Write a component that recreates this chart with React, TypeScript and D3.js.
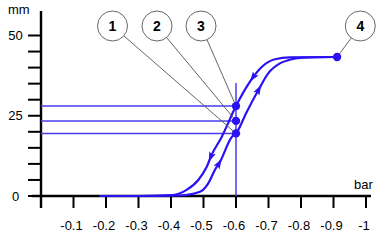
import React, { useEffect, useRef } from "react";
import * as d3 from "d3";

// Data
const xTicks = [0, -0.1, -0.2, -0.3, -0.4, -0.5, -0.6, -0.7, -0.8, -0.9, -1];
const xTickLabels = ["", "-0.1", "-0.2", "-0.3", "-0.4", "-0.5", "-0.6", "-0.7", "-0.8", "-0.9", "-1"];
const yTicks = [0, 5, 10, 15, 20, 25, 30, 35, 40, 45, 50];
const yLabelTicks = [0, 25, 50];

// descending branch (left curve), pressure bar, stroke mm
const downX = [-0.18, -0.3, -0.406, -0.448, -0.484, -0.51, -0.525, -0.556, -0.6, -0.643, -0.679, -0.72, -0.766, -0.911];
const downY = [0, 0, 0.3, 1.9, 5.0, 9.1, 12.8, 18.4, 28.0, 35.6, 40.2, 42.6, 43.2, 43.3];
// ascending branch (right curve)
const upX = [-0.18, -0.3, -0.428, -0.489, -0.515, -0.535, -0.551, -0.587, -0.6, -0.633, -0.669, -0.699, -0.735, -0.771, -0.807, -0.911];
const upY = [0, 0, 0.15, 1.3, 4.0, 8.1, 10.7, 18.4, 19.5, 26.2, 33.0, 38.2, 41.3, 42.6, 43.1, 43.3];

const pointX = [-0.6, -0.6, -0.6, -0.911];
const pointY = [19.5, 23.4, 28.0, 43.3];
const pointLabels = ["1", "2", "3", "4"];
const refLevels = [19.5, 23.4, 28.0];
const refPressure = -0.6;
const refTop = 35.2;

const downArrowsX = [-0.652, -0.522];
const upArrowsX = [-0.67, -0.548];

export default function App() {
  const ref = useRef<SVGSVGElement>(null);
  useEffect(() => {
    const svg = d3.select(ref.current);
    svg.selectAll("*").remove();
    const W = 378, H = 245;
    const x = d3.scaleLinear().domain([0, -1]).range([41, 366]);
    const y = d3.scaleLinear().domain([0, 50]).range([196, 35.5]);
    const font = "'Liberation Sans', Arial, sans-serif";
    const blue = "#2a12f2";
    const lineBlue = "#4a3cf0";

    // axes
    svg.append("line").attr("x1", 32).attr("x2", 371).attr("y1", y(0)).attr("y2", y(0)).attr("stroke", "#000").attr("stroke-width", 2.4);
    svg.append("line").attr("x1", x(0)).attr("x2", x(0)).attr("y1", 11).attr("y2", 208).attr("stroke", "#000").attr("stroke-width", 2.4);
    xTicks.forEach((t, i) => {
      svg.append("line").attr("x1", x(t)).attr("x2", x(t)).attr("y1", y(0)).attr("y2", 208).attr("stroke", "#000").attr("stroke-width", 2);
      if (xTickLabels[i]) {
        svg.append("text").attr("x", x(t) - 2).attr("y", 229.5).attr("text-anchor", "middle")
          .attr("font-family", font).attr("font-size", 13).attr("fill", "#000").text(xTickLabels[i]);
      }
    });
    yTicks.forEach((t) => {
      svg.append("line").attr("x1", 28).attr("x2", x(0)).attr("y1", y(t)).attr("y2", y(t)).attr("stroke", "#000").attr("stroke-width", 2);
    });
    yLabelTicks.forEach((t) => {
      svg.append("text").attr("x", 15.5).attr("y", y(t) + 4.5).attr("text-anchor", "middle")
        .attr("font-family", font).attr("font-size", 13).attr("fill", "#000").text(String(t));
    });
    svg.append("text").attr("x", 8).attr("y", 14).attr("font-family", font).attr("font-size", 13).attr("fill", "#000").text("mm");
    svg.append("text").attr("x", 354).attr("y", 189).attr("font-family", font).attr("font-size", 13).attr("fill", "#000").text("bar");

    // reference lines
    refLevels.forEach((v) => {
      svg.append("line").attr("x1", x(0)).attr("x2", x(refPressure)).attr("y1", y(v)).attr("y2", y(v))
        .attr("stroke", lineBlue).attr("stroke-width", 1.5);
    });
    svg.append("line").attr("x1", x(refPressure)).attr("x2", x(refPressure)).attr("y1", y(0)).attr("y2", y(refTop))
      .attr("stroke", lineBlue).attr("stroke-width", 1.5);

    // curves
    const line = d3.line<[number, number]>().x((d) => x(d[0])).y((d) => y(d[1])).curve(d3.curveMonotoneX);
    const downData = downX.map((v, i) => [v, downY[i]] as [number, number]);
    const upData = upX.map((v, i) => [v, upY[i]] as [number, number]);
    const pDown = svg.append("path").attr("d", line(downData)).attr("fill", "none").attr("stroke", blue).attr("stroke-width", 2.2);
    const pUp = svg.append("path").attr("d", line(upData)).attr("fill", "none").attr("stroke", blue).attr("stroke-width", 2.2);

    const arrowAt = (path: SVGPathElement, xv: number, dir: number) => {
      const L = path.getTotalLength();
      const target = x(xv);
      let lo = 0, hi = L;
      for (let k = 0; k < 40; k++) {
        const mid = (lo + hi) / 2;
        if (path.getPointAtLength(mid).x < target) lo = mid; else hi = mid;
      }
      const p = path.getPointAtLength(lo);
      const p2 = path.getPointAtLength(Math.min(L, lo + 1));
      let ang = Math.atan2(p2.y - p.y, p2.x - p.x) * 180 / Math.PI;
      if (dir < 0) ang += 180;
      svg.append("path").attr("d", "M5,0 L-5,-3.5 L-3,0 L-5,3.5 Z").attr("fill", blue)
        .attr("transform", `translate(${p.x},${p.y}) rotate(${ang})`);
    };
    downArrowsX.forEach((v) => arrowAt(pDown.node() as SVGPathElement, v, -1));
    upArrowsX.forEach((v) => arrowAt(pUp.node() as SVGPathElement, v, 1));

    // callouts
    const circleCX = [112.5, 157, 201, 360.3];
    const r = 15;
    pointLabels.forEach((lab, i) => {
      const cx = circleCX[i], cy = 26;
      const px = x(pointX[i]), py = y(pointY[i]);
      const dx = px - cx, dy = py - cy, len = Math.hypot(dx, dy);
      svg.append("line").attr("x1", cx + dx / len * r).attr("y1", cy + dy / len * r).attr("x2", px).attr("y2", py)
        .attr("stroke", "#555").attr("stroke-width", 0.9);
      svg.append("circle").attr("cx", cx).attr("cy", cy).attr("r", r).attr("fill", "#fff").attr("stroke", "#555").attr("stroke-width", 0.9);
      svg.append("text").attr("x", cx).attr("y", cy + 5).attr("text-anchor", "middle").attr("font-family", font)
        .attr("font-size", 14).attr("font-weight", "bold").attr("fill", "#000").text(lab);
    });
    pointX.forEach((v, i) => {
      svg.append("circle").attr("cx", x(v)).attr("cy", y(pointY[i])).attr("r", 4.2).attr("fill", blue);
    });
    svg.attr("width", W).attr("height", H);
  }, []);
  return (
    <svg ref={ref} width={378} height={245} style={{ position: "absolute", left: 0, top: 0, background: "#fff" }} />
  );
}
